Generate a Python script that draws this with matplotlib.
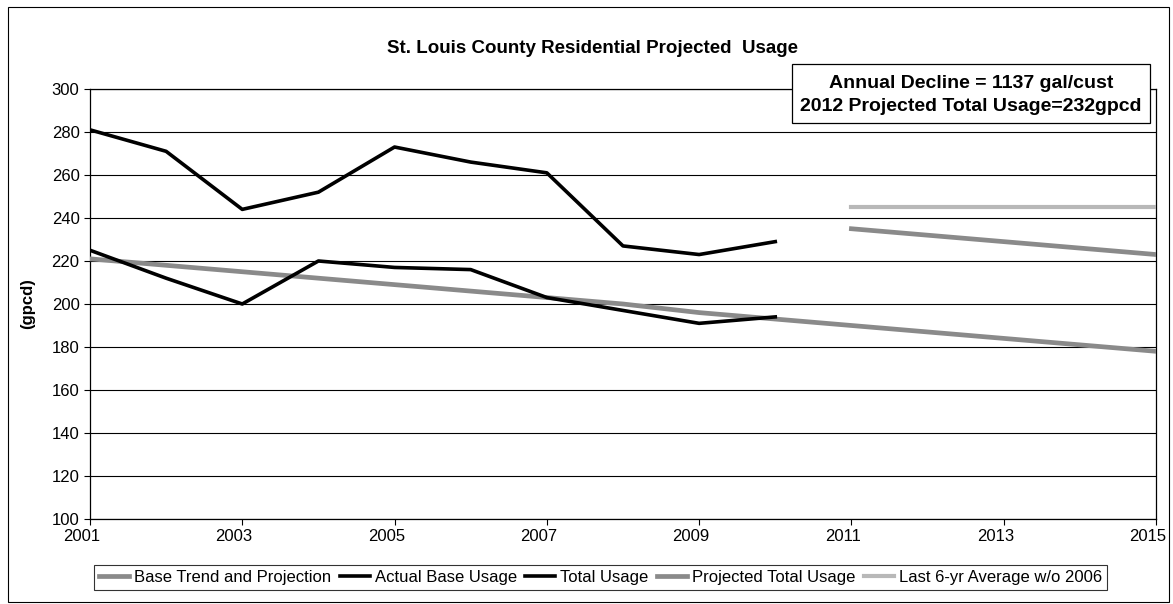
import matplotlib.pyplot as plt
from matplotlib.patches import Rectangle
from matplotlib.transforms import ScaledTranslation

plt.rcParams['font.family'] = ['Liberation Sans', 'DejaVu Sans']

# data
years_hist = [2001, 2002, 2003, 2004, 2005, 2006, 2007, 2008, 2009, 2010]
total_usage = [281, 271, 244, 252, 273, 266, 261, 227, 223, 229]
actual_base = [225, 212, 200, 220, 217, 216, 203, 197, 191, 194]

years_all = [2001, 2002, 2003, 2004, 2005, 2006, 2007, 2008,
             2009, 2010, 2011, 2012, 2013, 2014, 2015]
base_trend = [221, 218, 215, 212, 209, 206, 203, 200,
              196, 193, 190, 187, 184, 181, 178]

years_proj = [2011, 2012, 2013, 2014, 2015]
projected_total = [235, 232, 229, 226, 223]
six_yr_avg = [245, 245, 245, 245, 245]

x_ticks = [2001, 2003, 2005, 2007, 2009, 2011, 2013, 2015]
y_ticks = [100, 120, 140, 160, 180, 200, 220, 240, 260, 280, 300]

title = "St. Louis County Residential Projected  Usage"
note_lines = ["Annual Decline = 1137 gal/cust",
              "2012 Projected Total Usage=232gpcd"]

fig = plt.figure(figsize=(11.73, 6.04), dpi=100)
ax = fig.add_axes([0.0767, 0.1407, 0.9088, 0.712])

ax.plot(years_all, base_trend, color='#8a8a8a', lw=3.4,
        label='Base Trend and Projection', zorder=3)
ax.plot(years_hist, actual_base, color='black', lw=2.6,
        label='Actual Base Usage', zorder=4)
ax.plot(years_hist, total_usage, color='black', lw=2.6,
        label='Total Usage', zorder=4)
ax.plot(years_proj, projected_total, color='#8a8a8a', lw=3.4,
        label='Projected Total Usage', zorder=3)
ax.plot(years_proj, six_yr_avg, color='#b8b8b8', lw=3.0,
        label='Last 6-yr Average w/o 2006', zorder=3)

ax.set_xlim(2001, 2015)
ax.set_ylim(100, 300)
ax.set_xticks(x_ticks)
ax.set_yticks(y_ticks)
ax.tick_params(labelsize=12, direction='out', length=4, width=0.8)
ax.grid(axis='y', color='black', lw=0.8)
ax.set_axisbelow(True)
for s in ax.spines.values():
    s.set_color('black')
    s.set_linewidth(0.9)

# year labels sit a little left of their ticks in the reference
shift = ScaledTranslation(-6 / 72, 0, fig.dpi_scale_trans)
for lbl in ax.get_xticklabels():
    lbl.set_transform(lbl.get_transform() + shift)

ax.set_ylabel('(gpcd)', fontsize=12, fontweight='bold', labelpad=12)

fig.text(0.505, 0.9205, title, ha='center', va='center',
         fontsize=13.5, fontweight='bold')

# annotation box (partly above the plot area, as in the reference)
fig.patches.append(Rectangle((0.675, 0.7964), 0.305, 0.097,
                             transform=fig.transFigure, fc='white',
                             ec='black', lw=0.9, zorder=5))
fig.text(0.828, 0.861, note_lines[0], ha='center', va='center',
         fontsize=14, fontweight='bold', zorder=6)
fig.text(0.828, 0.8245, note_lines[1], ha='center', va='center',
         fontsize=14, fontweight='bold', zorder=6)

leg = fig.legend(loc='center', bbox_to_anchor=(0.512, 0.0445), ncol=5,
                 fontsize=12, frameon=True, fancybox=False,
                 handlelength=1.8, handletextpad=0.3, columnspacing=0.5,
                 borderpad=0.3)
leg.get_frame().set_edgecolor('black')
leg.get_frame().set_linewidth(0.8)

fig.patches.append(Rectangle((0.007, 0.004), 0.99, 0.985,
                             transform=fig.transFigure, fill=False,
                             ec='black', lw=0.8))

fig.savefig('out.png', dpi=100)
